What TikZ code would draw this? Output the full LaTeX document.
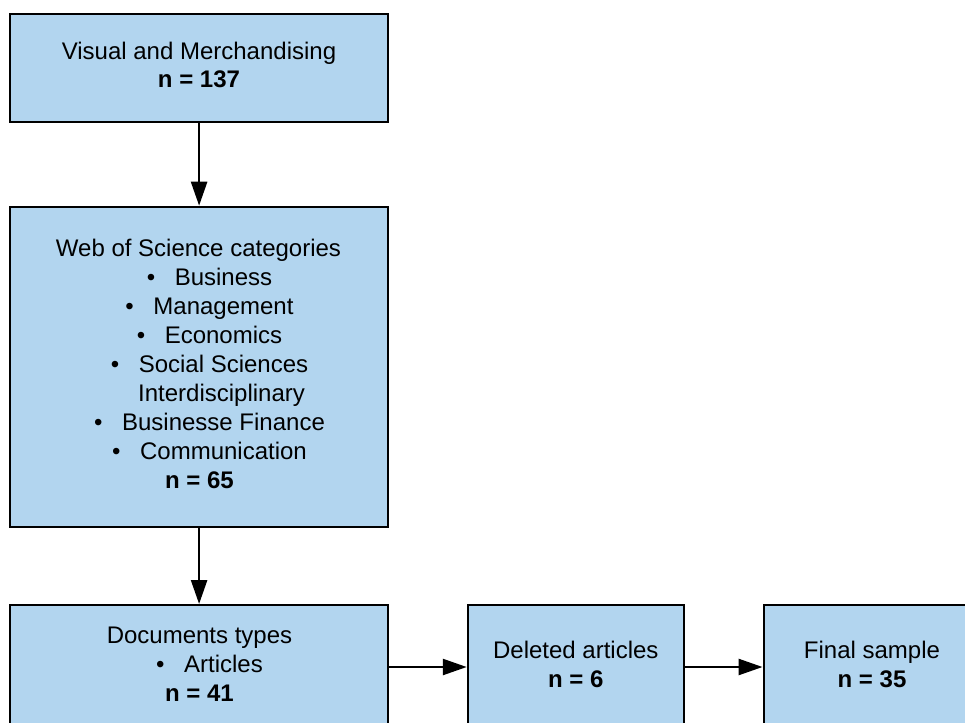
\documentclass[tikz,border=0pt]{standalone}
\usepackage{fontspec}
\setmainfont{Liberation Sans}
\usetikzlibrary{arrows.meta}
\definecolor{boxblue}{HTML}{B2D5EF}
\tikzset{
  box/.style={draw=black, line width=2pt, fill=boxblue, inner sep=0pt, minimum width=377.4pt},
  smallbox/.style={box, minimum width=216.3pt},
  txt/.style={anchor=base, inner sep=0pt, font=\fontsize{24}{29}\selectfont},
  btxt/.style={txt, font=\fontsize{24}{29}\selectfont\bfseries},
  arr/.style={line width=2.5pt, -{Triangle[length=24pt,width=16pt]}}
}
\newcommand{\bitem}[1]{\makebox[28pt][l]{•}#1}
\begin{document}
\begin{tikzpicture}[x=1pt,y=-1pt]
\clip (0,0) rectangle (965,722);
\fill[white] (0,0) rectangle (965,722);
% boxes
\node[box, minimum height=108pt] (top) at (199.1,68) {};
\node[box, minimum height=320.6pt] (mid) at (199.1,367) {};
\node[box, minimum height=155pt] (docs) at (199.1,682.5) {};
\node[smallbox, minimum height=155pt] (del) at (575.9,682.5) {};
\node[smallbox, minimum height=155pt] (fin) at (871.7,682.5) {};
% top text
\node[txt] (t1) at (199,60) {Visual and Merchandising};
\node[btxt] (t2) at (199,88) {n = 137};
% middle text
\node[txt] (m1) at (198.5,256) {Web of Science categories};
\node[txt] (m2) at (209.5,285) {\bitem{Business}};
\node[txt] (m3) at (209.5,314) {\bitem{Management}};
\node[txt] (m4) at (209.5,343) {\bitem{Economics}};
\node[txt] (m5) at (209.5,372) {\bitem{Social Sciences}};
\node[txt, anchor=base west] (m6) at (138,401) {Interdisciplinary};
\node[txt] (m7) at (209.5,430) {\bitem{Businesse Finance}};
\node[txt] (m8) at (209.5,459) {\bitem{Communication}};
\node[btxt] (m9) at (199.5,488) {n = 65};
% docs text
\node[txt] (d1) at (199.5,643) {Documents types};
\node[txt] (d2) at (209.5,672) {\bitem{Articles}};
\node[btxt] (d3) at (199.5,701) {n = 41};
% deleted text
\node[txt] (e1) at (575.8,658) {Deleted articles};
\node[btxt] (e2) at (575.8,687) {n = 6};
% final text
\node[txt] (f1) at (872,658) {Final sample};
\node[btxt] (f2) at (872,687) {n = 35};
% connectors
\coordinate (hy) at (0,667);
\draw[arr] (top.south) -- (mid.north);
\draw[arr] (mid.south) -- (docs.north);
\draw[arr] (docs.east |- hy) -- (del.west |- hy);
\draw[arr] (del.east |- hy) -- (fin.west |- hy);
\end{tikzpicture}
\end{document}
